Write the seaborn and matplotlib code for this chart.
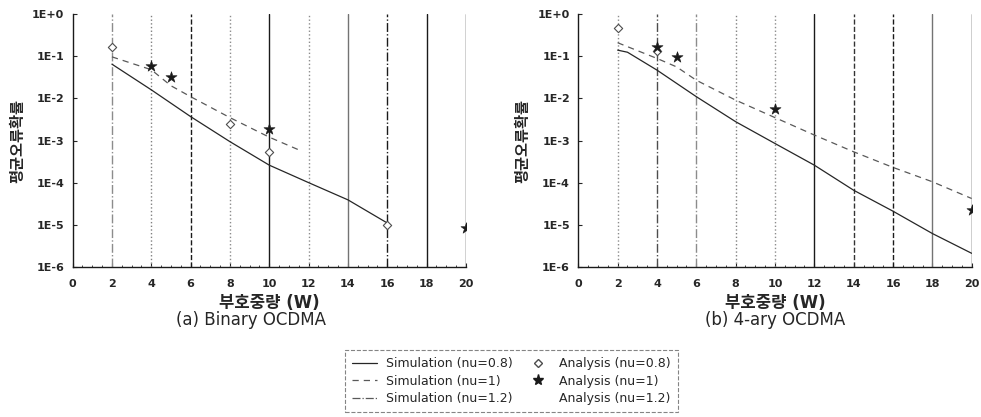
import numpy as np
import pandas as pd
import matplotlib
matplotlib.use("Agg")
import matplotlib.pyplot as plt
from matplotlib.lines import Line2D
from matplotlib.ticker import FixedLocator, FuncFormatter, MultipleLocator
import seaborn as sns

# Datos (probabilidad de error vs peso del codigo W)
# (a) Binary OCDMA
a_sim08_w = [2, 4, 6, 8, 10, 12, 14, 16]
a_sim08_p = [0.065, 0.016, 3.7e-3, 9.4e-4, 2.6e-4, 1.0e-4, 3.9e-5, 1.1e-5]
a_sim10_w = [2, 4, 5, 6, 8, 10, 11.5]
a_sim10_p = [0.097, 0.048, 0.02, 0.011, 3.5e-3, 1.2e-3, 6.0e-4]
a_ana08_w = [2, 8, 10, 16]
a_ana08_p = [0.17, 2.5e-3, 5.4e-4, 1.0e-5]
a_ana10_w = [4, 5, 10, 20]
a_ana10_p = [0.059, 0.032, 1.9e-3, 8.5e-6]

# (b) 4-ary OCDMA
b_sim08_w = [2, 2.5, 4, 6, 8, 10, 12, 14, 16, 18, 20]
b_sim08_p = [0.14, 0.125, 0.047, 0.011, 2.8e-3, 8.5e-4, 2.6e-4, 6.6e-5, 2.1e-5, 6.2e-6, 2.1e-6]
b_sim10_w = [2, 4, 5, 6, 8, 10, 12, 14, 16, 18, 20]
b_sim10_p = [0.21, 0.089, 0.056, 0.027, 9.1e-3, 3.5e-3, 1.35e-3, 5.4e-4, 2.3e-4, 1.05e-4, 4.2e-5]
b_ana08_w = [2, 4]
b_ana08_p = [0.48, 0.13]
b_ana10_w = [4, 5, 10, 20]
b_ana10_p = [0.17, 0.097, 5.5e-3, 2.3e-5]

subtitles = ["(a) Binary OCDMA", "(b) 4-ary OCDMA"]
x_label = "부호중량 (W)"
y_label = "평균오류확률"
y_ticks = [1e0, 1e-1, 1e-2, 1e-3, 1e-4, 1e-5, 1e-6]
y_tick_labels = ["1E+0", "1E-1", "1E-2", "1E-3", "1E-4", "1E-5", "1E-6"]
legend_labels = ["Simulation (nu=0.8)", "Simulation (nu=1)", "Simulation (nu=1.2)",
                 "Analysis (nu=0.8)", "Analysis (nu=1)", "Analysis (nu=1.2)"]

sns.set_style("ticks")
plt.rcParams["font.family"] = ["DejaVu Sans", "Noto Sans CJK KR"]

fig = plt.figure(figsize=(9.81, 4.17), dpi=100)
ax_a = fig.add_axes([0.074, 0.36, 0.401, 0.606])
ax_b = fig.add_axes([0.5895, 0.36, 0.401, 0.606])

# estilos de las lineas verticales (rejilla escaneada)
vstyles_a = [("-.", "0.55"), (":", "0.5"), ("--", "0.1"), (":", "0.55"), ("-", "0.1"),
             (":", "0.55"), ("-", "0.45"), ("-.", "0.1"), ("-", "0.1"), ("-", "0.1")]
vstyles_b = [(":", "0.55"), ("-.", "0.3"), ("-.", "0.55"), (":", "0.5"), (":", "0.55"),
             ("-", "0.1"), ("--", "0.2"), ("--", "0.1"), ("-", "0.45"), ("-", "0.05")]
subtitle_x = [0.453, 0.5]

panels = [
    (ax_a, a_sim08_w, a_sim08_p, a_sim10_w, a_sim10_p, a_ana08_w, a_ana08_p, a_ana10_w, a_ana10_p, vstyles_a),
    (ax_b, b_sim08_w, b_sim08_p, b_sim10_w, b_sim10_p, b_ana08_w, b_ana08_p, b_ana10_w, b_ana10_p, vstyles_b),
]

for i, (ax, s8w, s8p, s10w, s10p, a8w, a8p, a10w, a10p, vst) in enumerate(panels):
    ax.set_yscale("log")
    ax.set_xlim(0, 20)
    ax.set_ylim(1e-6, 1e0)

    for xv, (ls, c) in zip(range(2, 21, 2), vst):
        ax.axvline(xv, linestyle=ls, color=c, linewidth=1.0, zorder=1)

    sns.lineplot(x=s8w, y=s8p, ax=ax, color="0.15", linewidth=0.9, linestyle="-", zorder=3)
    sns.lineplot(x=s10w, y=s10p, ax=ax, color="0.35", linewidth=0.9, linestyle=(0, (5, 4)), zorder=3)
    sns.scatterplot(x=a8w, y=a8p, ax=ax, marker="D", s=18, facecolor="white",
                    edgecolor="0.3", linewidth=0.8, zorder=4)
    sns.scatterplot(x=a10w, y=a10p, ax=ax, marker="*", s=70, color="0.1",
                    edgecolor="0.1", linewidth=0.4, zorder=4)

    ax.yaxis.set_major_locator(FixedLocator(y_ticks))
    ax.yaxis.set_major_formatter(FuncFormatter(lambda v, pos: y_tick_labels[int(round(-np.log10(v)))]))
    ax.yaxis.set_minor_locator(FixedLocator([]))
    ax.xaxis.set_major_locator(MultipleLocator(2))
    ax.xaxis.set_minor_locator(MultipleLocator(0.5))
    ax.tick_params(axis="both", which="major", direction="in", length=3, width=0.8,
                   labelsize=8, pad=6)
    ax.tick_params(axis="x", which="major", pad=9)
    ax.tick_params(axis="x", which="minor", direction="in", length=1.5, width=0.6)
    for lab in ax.get_xticklabels() + ax.get_yticklabels():
        lab.set_fontweight("bold")

    for side in ["left", "bottom"]:
        ax.spines[side].set_linewidth(1.0)
        ax.spines[side].set_color("0.1")
    ax.spines["top"].set_visible(False)
    ax.spines["right"].set_visible(False)

    ax.set_xlabel(x_label, fontsize=12, labelpad=3, fontweight="bold")
    ax.set_ylabel(y_label, fontsize=11, labelpad=5, fontweight="bold")
    ax.text(subtitle_x[i], -0.21, subtitles[i], transform=ax.transAxes,
            ha="center", va="center", fontsize=12)

handles = [
    Line2D([], [], color="0.15", linewidth=0.9, linestyle="-"),
    Line2D([], [], color="0.35", linewidth=0.9, linestyle=(0, (5, 4))),
    Line2D([], [], color="0.35", linewidth=0.9, linestyle="-."),
    Line2D([], [], marker="D", markersize=4, markerfacecolor="white", markeredgecolor="0.3", linestyle="None"),
    Line2D([], [], marker="*", markersize=8, color="0.1", linestyle="None"),
    Line2D([], [], marker="None", linestyle="None"),
]
leg = fig.legend(handles, legend_labels, ncol=2, loc="center", bbox_to_anchor=(0.5214, 0.0863),
                 fontsize=9, frameon=True, handlelength=2.0, handletextpad=0.7,
                 columnspacing=1.0, labelspacing=0.35, borderpad=0.6, borderaxespad=0,
                 fancybox=False)
leg.get_frame().set_linestyle("--")
leg.get_frame().set_edgecolor("0.4")
leg.get_frame().set_linewidth(0.8)

fig.savefig("out.png", dpi=100)
